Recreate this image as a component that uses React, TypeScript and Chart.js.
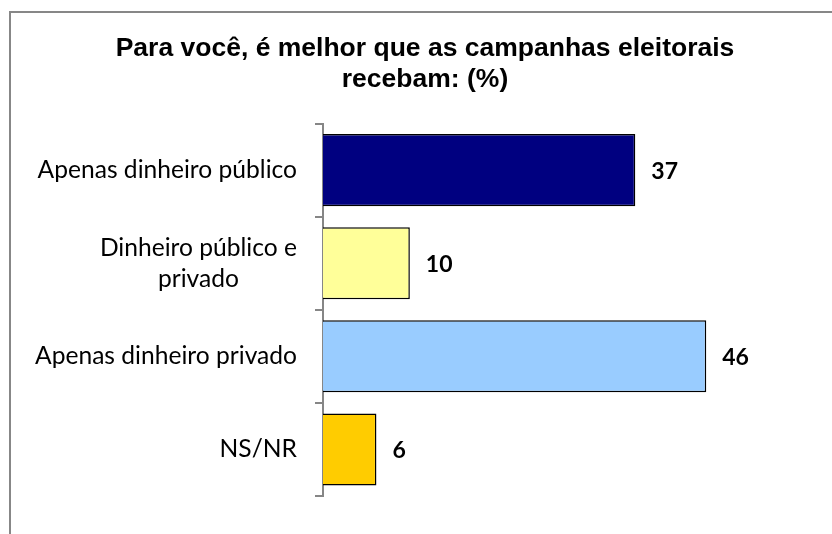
import React, { useEffect, useRef } from "react";
import { Chart, registerables } from "chart.js";

Chart.register(...registerables);

const titleLines = ["Para você, é melhor que as campanhas eleitorais", "recebam: (%)"];
const categories: (string | string[])[] = [
  "Apenas dinheiro público",
  ["Dinheiro público e", "privado"],
  "Apenas dinheiro privado",
  "NS/NR",
];
const values = [37.4, 10.4, 45.9, 6.4];
const barColors = ["#000080", "#FFFF99", "#99CCFF", "#FFCC00"];

const LABEL_FONT = "24.6px Lato, 'Noto Sans', sans-serif";
const VALUE_FONT = "bold 23px Lato, 'Noto Sans', sans-serif";

const labelsPlugin = {
  id: "customLabels",
  afterDatasetsDraw(chart: any) {
    const ctx = chart.ctx;
    const yScale = chart.scales.y;
    ctx.save();
    ctx.fillStyle = "#000";
    ctx.textBaseline = "middle";
    // category labels
    ctx.font = LABEL_FONT;
    const rightX = yScale.right - 26;
    categories.forEach((lab, i) => {
      const cy = yScale.getPixelForValue(i);
      if (Array.isArray(lab)) {
        const widths = lab.map((l) => ctx.measureText(l).width);
        const widest = Math.max(...widths);
        const cx = rightX - widest / 2;
        const lh = 31;
        ctx.textAlign = "center";
        lab.forEach((l, j) => {
          ctx.fillText(l, cx, cy + (j - (lab.length - 1) / 2) * lh);
        });
      } else {
        ctx.textAlign = "right";
        ctx.fillText(lab, rightX, cy);
      }
    });
    // value labels
    ctx.font = VALUE_FONT;
    ctx.textAlign = "left";
    const meta = chart.getDatasetMeta(0);
    meta.data.forEach((bar: any, i: number) => {
      ctx.fillText(String(Math.round(values[i])), bar.x + 16, bar.y + 1);
    });
    ctx.restore();
  },
};

export default function App() {
  const ref = useRef<HTMLCanvasElement | null>(null);
  useEffect(() => {
    if (!ref.current) return;
    const chart = new Chart(ref.current, {
      type: "bar",
      data: {
        labels: categories as any,
        datasets: [
          {
            data: values,
            backgroundColor: barColors,
            borderColor: "#000",
            borderWidth: 1.5,
            categoryPercentage: 1,
            barPercentage: 0.774,
          },
        ],
      },
      options: {
        indexAxis: "y",
        animation: false,
        responsive: false,
        layout: { padding: { left: 26, right: 8, top: 0, bottom: 38 } },
        plugins: {
          legend: { display: false },
          tooltip: { enabled: false },
          title: {
            display: true,
            text: titleLines,
            color: "#000",
            font: { family: "'Liberation Sans', Arial, sans-serif", weight: "bold", size: 26.5, lineHeight: 1.18 },
            padding: { top: 33, bottom: 28 },
          },
        },
        scales: {
          x: { display: false, min: 0, max: 60 },
          y: {
            display: true,
            ticks: { display: false },
            grid: {
              display: true,
              drawOnChartArea: false,
              drawTicks: true,
              tickLength: 8,
              color: "#868686",
              lineWidth: 2,
              offset: true,
            },
            border: { display: true, color: "#868686", width: 2 },
            afterFit: (scale: any) => {
              scale.width = 323 - 26;
            },
          },
        },
      },
      plugins: [labelsPlugin],
    });
    return () => chart.destroy();
  }, []);
  return (
    <div style={{ position: "absolute", left: 0, top: 0, width: 832, height: 534, background: "#fff", overflow: "hidden" }}>
      <canvas ref={ref} width={832} height={534} style={{ display: "block" }} />
      <div
        style={{
          position: "absolute",
          left: 9,
          top: 11,
          width: 900,
          height: 600,
          borderLeft: "2px solid #878787",
          borderTop: "2px solid #878787",
          pointerEvents: "none",
        }}
      />
    </div>
  );
}
